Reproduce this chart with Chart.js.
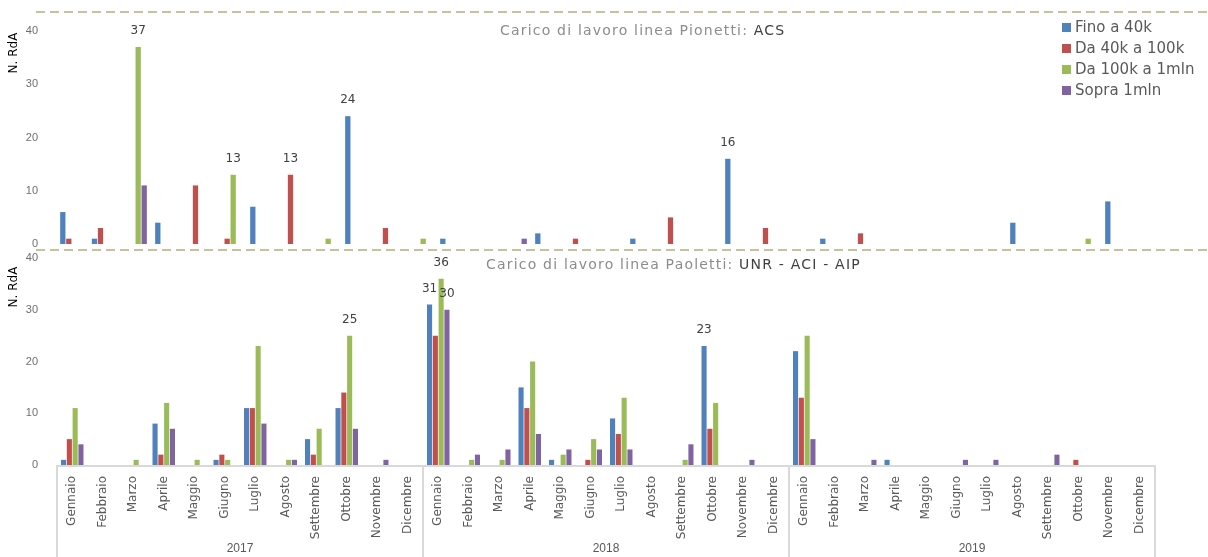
<!DOCTYPE html>
<html>
<head>
<meta charset="utf-8">
<script src="https://cdn.jsdelivr.net/npm/chart.js@4.4.1/dist/chart.umd.min.js"></script>
<style>
    body { margin: 0; background: #fff; width: 1208px; height: 557px; overflow: hidden; position: relative; }
    #bottomChart { position: absolute; left: 0; top: 250px; }
    #topChart { position: absolute; left: 0; top: 0; }
</style>
</head>
<body>
<canvas id="bottomChart" width="1208" height="307"></canvas>
<canvas id="topChart" width="1208" height="252"></canvas>
<script>
const months = ['Gennaio', 'Febbraio', 'Marzo', 'Aprile', 'Maggio', 'Giugno', 'Luglio', 'Agosto', 'Settembre', 'Ottobre', 'Novembre', 'Dicembre'];
const years = ['2017', '2018', '2019'];
const seriesNames = ['Fino a 40k', 'Da 40k a 100k', 'Da 100k a 1mln', 'Sopra 1mln'];
const seriesColors = ['#4f81bd', '#c0504d', '#9bbb59', '#8064a2'];
const yTicks = [0, 10, 20, 30, 40];

// Carico di lavoro linea Pionetti: ACS
const pioFino40k    = [6, 1, 0, 4, 0, 0, 7, 0, 0, 24, 0, 0,  1, 0, 0, 2, 0, 0, 1, 0, 0, 16, 0, 0,  1, 0, 0, 0, 0, 0, 4, 0, 0, 8, 0, 0];
const pioDa40a100k  = [1, 3, 0, 0, 11, 1, 0, 13, 0, 0, 3, 0,  0, 0, 0, 0, 1, 0, 0, 5, 0, 0, 3, 0,  0, 2, 0, 0, 0, 0, 0, 0, 0, 0, 0, 0];
const pioDa100ka1m  = [0, 0, 37, 0, 0, 13, 0, 0, 1, 0, 0, 1,  0, 0, 0, 0, 0, 0, 0, 0, 0, 0, 0, 0,  0, 0, 0, 0, 0, 0, 0, 0, 1, 0, 0, 0];
const pioSopra1m    = [0, 0, 11, 0, 0, 0, 0, 0, 0, 0, 0, 0,  0, 0, 1, 0, 0, 0, 0, 0, 0, 0, 0, 0,  0, 0, 0, 0, 0, 0, 0, 0, 0, 0, 0, 0];
const pioLabelled   = [[2, 2], [2, 5], [1, 7], [0, 9], [0, 21]];

// Carico di lavoro linea Paoletti: UNR - ACI - AIP
const paoFino40k    = [1, 0, 0, 8, 0, 1, 11, 0, 5, 11, 0, 0,  31, 0, 0, 15, 1, 0, 9, 0, 0, 23, 0, 0,  22, 0, 0, 1, 0, 0, 0, 0, 0, 0, 0, 0];
const paoDa40a100k  = [5, 0, 0, 2, 0, 2, 11, 0, 2, 14, 0, 0,  25, 0, 0, 11, 0, 1, 6, 0, 0, 7, 0, 0,  13, 0, 0, 0, 0, 0, 0, 0, 0, 1, 0, 0];
const paoDa100ka1m  = [11, 0, 1, 12, 1, 1, 23, 1, 7, 25, 0, 0,  36, 1, 1, 20, 2, 5, 13, 0, 1, 12, 0, 0,  25, 0, 0, 0, 0, 0, 0, 0, 0, 0, 0, 0];
const paoSopra1m    = [4, 0, 0, 7, 0, 0, 8, 1, 0, 7, 1, 0,  30, 2, 3, 6, 3, 3, 3, 0, 4, 0, 1, 0,  5, 0, 1, 0, 0, 1, 1, 0, 2, 0, 0, 0];
const paoLabelled   = [[2, 9], [0, 12], [2, 12], [3, 12], [0, 21]];

const categories = years.flatMap(y => months.map(m => m + ' ' + y));

function makeDatasets(series) {
    return series.map((data, i) => ({
        label: seriesNames[i],
        data: data,
        backgroundColor: seriesColors[i],
        borderWidth: 0,
        categoryPercentage: 0.76,
        barPercentage: 0.88
    }));
}

const decor = {
    id: 'decor',
    beforeDatasetsDraw(chart, args, o) {
        if (!o.yearAxis) return;
        const ctx = chart.ctx;
        const area = chart.chartArea;
        const xs = chart.scales.x;
        const bounds = [area.left];
        for (let k = 1; k < years.length; k++) {
            bounds.push((xs.getPixelForValue(12 * k - 1) + xs.getPixelForValue(12 * k)) / 2);
        }
        bounds.push(area.right);
        ctx.save();
        ctx.strokeStyle = '#d9d9d9';
        ctx.lineWidth = 2;
        ctx.beginPath();
        ctx.moveTo(area.left, area.bottom + 1);
        ctx.lineTo(area.right, area.bottom + 1);
        bounds.forEach(x => {
            ctx.moveTo(x, area.bottom);
            ctx.lineTo(x, chart.height);
        });
        ctx.stroke();
        ctx.font = '12px "Liberation Sans"';
        ctx.fillStyle = '#595959';
        ctx.textAlign = 'center';
        ctx.textBaseline = 'middle';
        years.forEach((y, k) => ctx.fillText(y, (bounds[k] + bounds[k + 1]) / 2, chart.height - 8));
        ctx.restore();
    },
    afterDraw(chart, args, o) {
        const ctx = chart.ctx;
        ctx.save();
        // dashed frame lines
        ctx.strokeStyle = '#c9c19c';
        ctx.lineWidth = 2;
        ctx.setLineDash([9, 5]);
        o.dashY.forEach(y => {
            ctx.beginPath();
            ctx.moveTo(36, y);
            ctx.lineTo(chart.width, y);
            ctx.stroke();
        });
        ctx.setLineDash([]);

        // title
        ctx.font = '14px "DejaVu Sans"';
        ctx.letterSpacing = '1.2px';
        ctx.textAlign = 'left';
        ctx.textBaseline = 'middle';
        ctx.fillStyle = '#8c8c8c';
        ctx.fillText(o.title[0], o.titleX, o.titleY);
        const w = ctx.measureText(o.title[0]).width;
        ctx.fillStyle = '#404040';
        ctx.fillText(o.title[1], o.titleX + w, o.titleY);
        ctx.letterSpacing = '0px';

        // y axis title
        ctx.save();
        ctx.translate(14, o.yTitleY);
        ctx.rotate(-Math.PI / 2);
        ctx.font = '12px "DejaVu Sans"';
        ctx.fillStyle = '#000';
        ctx.textAlign = 'center';
        ctx.fillText('N. RdA', 0, 0);
        ctx.restore();

        // value labels on the biggest bars
        ctx.font = '12px "DejaVu Sans"';
        ctx.fillStyle = '#404040';
        ctx.textAlign = 'center';
        o.labelled.forEach(([d, i]) => {
            const bar = chart.getDatasetMeta(d).data[i];
            ctx.fillText(chart.data.datasets[d].data[i], bar.x, bar.y - 16);
        });

        // legend
        if (o.legend) {
            ctx.font = '15px "DejaVu Sans"';
            chart.data.datasets.forEach((ds, i) => {
                const y = 28 + 21 * i;
                ctx.fillStyle = ds.backgroundColor;
                ctx.fillRect(1062, y - 5, 9, 9);
                ctx.fillStyle = '#595959';
                ctx.textAlign = 'left';
                ctx.fillText(ds.label, 1075, y);
            });
        }
        ctx.restore();
    }
};

function yScale(width, padding) {
    return {
        min: 0,
        max: 40,
        afterBuildTicks: s => { s.ticks = yTicks.map(v => ({ value: v })); },
        ticks: { color: '#6e6e6e', font: { family: 'Liberation Sans', size: 11 }, padding: padding },
        grid: { display: false },
        border: { display: false },
        afterFit: s => {
            s.width = width;
            s.paddingTop = 0;
            s.paddingBottom = 0;
        }
    };
}

new Chart(document.getElementById('topChart'), {
    type: 'bar',
    data: {
        labels: categories,
        datasets: makeDatasets([pioFino40k, pioDa40a100k, pioDa100ka1m, pioSopra1m])
    },
    options: {
        responsive: false,
        animation: false,
        layout: { padding: { top: 31, right: 12, bottom: 8, left: 0 } },
        scales: {
            x: { display: false },
            y: yScale(56, 10)
        },
        plugins: {
            legend: { display: false },
            tooltip: { enabled: false },
            decor: {
                dashY: [12, 250],
                title: ['Carico di lavoro linea Pionetti: ', 'ACS'],
                titleX: 500,
                titleY: 31,
                yTitleY: 53,
                labelled: pioLabelled,
                legend: true
            }
        }
    },
    plugins: [decor]
});

new Chart(document.getElementById('bottomChart'), {
    type: 'bar',
    data: {
        labels: categories,
        datasets: makeDatasets([paoFino40k, paoDa40a100k, paoDa100ka1m, paoSopra1m])
    },
    options: {
        responsive: false,
        animation: false,
        layout: { padding: { top: 8, right: 53, bottom: 0, left: 0 } },
        scales: {
            x: {
                ticks: {
                    autoSkip: false,
                    minRotation: 90,
                    maxRotation: 90,
                    padding: 3,
                    color: '#595959',
                    font: { family: 'DejaVu Sans', size: 12 },
                    callback: (v, i) => months[i % 12]
                },
                grid: { display: false },
                border: { display: false },
                afterFit: s => { s.height = 92; }
            },
            y: yScale(57, 11)
        },
        plugins: {
            legend: { display: false },
            tooltip: { enabled: false },
            decor: {
                dashY: [],
                title: ['Carico di lavoro linea Paoletti: ', 'UNR - ACI - AIP'],
                titleX: 486,
                titleY: 15,
                yTitleY: 37,
                labelled: paoLabelled,
                legend: false,
                yearAxis: true
            }
        }
    },
    plugins: [decor]
});
</script>
</body>
</html>
